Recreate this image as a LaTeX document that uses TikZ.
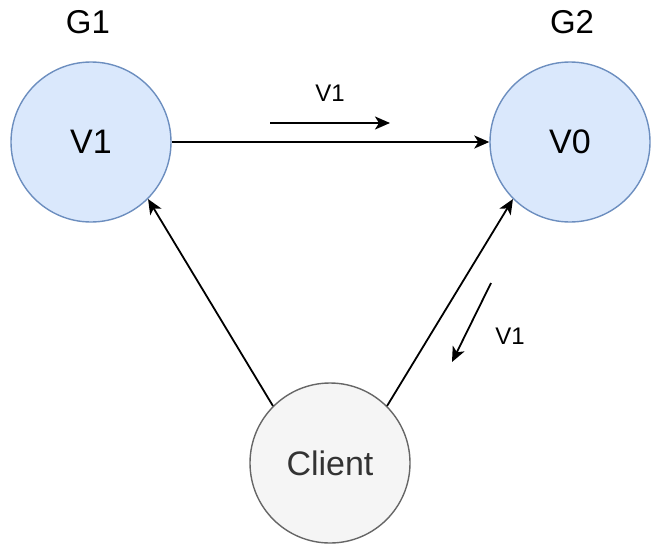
\documentclass[tikz,border=0pt]{standalone}
\usepackage{fontspec}
\setmainfont{Liberation Sans}
\usetikzlibrary{arrows.meta}

\definecolor{grpfill}{HTML}{DAE8FC}
\definecolor{grpline}{HTML}{6C8EBF}
\definecolor{clifill}{HTML}{F5F5F5}
\definecolor{cliline}{HTML}{666666}
\definecolor{clitext}{HTML}{333333}

\tikzset{
  replica/.style={circle, draw=grpline, fill=grpfill, line width=1.4pt,
    minimum size=160pt, inner sep=0pt, font=\fontsize{34}{39}\selectfont},
  client/.style={circle, draw=cliline, fill=clifill, text=clitext, line width=1.4pt,
    minimum size=160pt, inner sep=0pt, font=\fontsize{34}{39}\selectfont},
  grouplabel/.style={font=\fontsize{33}{38}\selectfont},
  msglabel/.style={font=\fontsize{24}{28}\selectfont},
  link/.style={line width=1.8pt, -{Stealth[length=15pt,width=13pt,inset=4pt]}}
}

\begin{document}
\begin{tikzpicture}[x=1pt,y=-1pt]
  \useasboundingbox (0,0) rectangle (660,552);

  \node [replica] (v1) at (91,142) {V1};
  \node [replica] (v0) at (570,142) {V0};
  \node [client] (cl) at (330,463) {Client};

  \node [grouplabel] (g1) at (88,22) {G1};
  \node [grouplabel] (g2) at (572,22) {G2};

  \draw [link] (v1) -- (v0);
  \draw [link] (cl.135) -- (v1.-45);
  \draw [link] (cl.45) -- (v0.-135);

  % replication hints
  \coordinate (a1) at (270,123);
  \coordinate (a2) at (390,123);
  \draw [link] (a1) -- (a2);
  \node [msglabel] (m1) at (330,93) {V1};

  \coordinate (b1) at (491,283);
  \coordinate (b2) at (452,362);
  \draw [link] (b1) -- (b2);
  \node [msglabel] (m2) at (510,336) {V1};
\end{tikzpicture}
\end{document}
